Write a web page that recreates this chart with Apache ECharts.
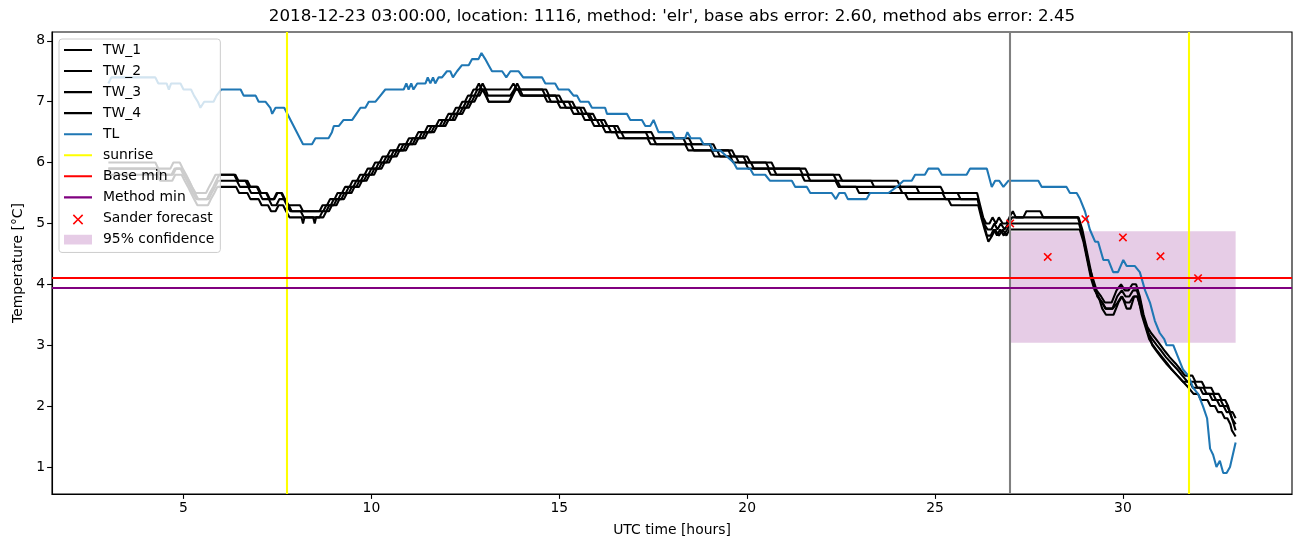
<!DOCTYPE html>
<html>
<head>
<meta charset="utf-8">
<script src="https://cdn.jsdelivr.net/npm/echarts@6/dist/echarts.min.js"></script>
<style>
  html, body { margin: 0; padding: 0; background: #fff; }
  #chart { width: 1302px; height: 547px; }
</style>
</head>
<body>
<div id="chart"></div>
<script>
// [hour, °C] vertices
const tw1 = [[3.0,6.0],[4.25,6.0],[4.33,5.9],[4.65,5.9],[4.73,6.0],[4.9,6.0],[4.98,5.9],[5.07,5.8],[5.15,5.7],[5.23,5.6],[5.32,5.5],[5.6,5.5],[5.68,5.6],[5.77,5.7],[5.85,5.8],[6.35,5.8],[6.43,5.7],[6.65,5.7],[6.73,5.6],[6.95,5.6],[7.03,5.5],[7.2,5.5],[7.28,5.4],[7.4,5.4],[7.48,5.5],[7.6,5.5],[7.68,5.4],[7.77,5.3],[8.1,5.3],[8.18,5.2],
  [8.62,5.2],[8.7,5.3],[8.82,5.3],[8.9,5.4],[9.02,5.4],[9.1,5.5],[9.22,5.5],[9.3,5.6],[9.42,5.6],[9.5,5.7],[9.62,5.7],[9.7,5.8],[9.82,5.8],[9.9,5.9],[10.02,5.9],[10.1,6.0],[10.22,6.0],[10.3,6.1],[10.42,6.1],[10.5,6.2],[10.67,6.2],[10.75,6.3],[10.92,6.3],[11.0,6.4],[11.17,6.4],[11.25,6.5],[11.42,6.5],[11.5,6.6],[11.72,6.6],[11.8,6.7],[11.97,6.7],[12.05,6.8],[12.17,6.8],[12.25,6.9],[12.34,6.9],[12.42,7.0],[12.49,7.0],[12.57,7.1],[12.64,7.1],[12.72,7.2],[12.78,7.2],[12.86,7.3],
  [12.94,7.2],[13.68,7.2],[13.78,7.3],[13.88,7.2],[14.55,7.2],
  [14.63,7.1],[14.9,7.1],[14.98,7.0],[15.25,7.0],[15.33,6.9],[15.55,6.9],[15.63,6.8],[15.8,6.8],[15.88,6.7],[16.1,6.7],[16.18,6.6],[16.45,6.6],[16.53,6.5],[17.3,6.5],[17.38,6.4],[18.3,6.4],[18.38,6.3],[19.0,6.3],[19.08,6.2],[19.5,6.2],[19.58,6.1],[19.9,6.1],[19.98,6.0],[20.5,6.0],[20.58,5.9],[21.4,5.9],[21.48,5.8],[22.3,5.8],[22.38,5.7],[24.0,5.7],[24.08,5.6],[25.15,5.6],[25.23,5.5],[26.12,5.5],
  [26.2,5.3],[26.28,5.1],[26.36,5.0],[26.45,5.0],[26.53,5.1],[26.62,5.0],[26.7,5.1],[26.8,5.0],[26.9,5.0],[26.98,5.1],[27.07,5.2],[27.15,5.1],[27.35,5.1],[27.43,5.2],[27.8,5.2],[27.88,5.1],[28.8,5.1],
  [28.9,4.9],[29.0,4.6],[29.1,4.3],[29.2,4.1],[29.3,3.9],[29.42,3.8],[29.52,3.7],[29.7,3.7],[29.83,3.9],[29.95,4.0],[30.05,3.9],[30.15,3.9],[30.25,4.0],[30.35,4.0],[30.45,3.8],[30.55,3.5],[30.65,3.3],[30.75,3.2],[30.88,3.1],[31.0,3.0],[31.12,2.9],[31.25,2.8],[31.4,2.7],[31.53,2.6],[31.65,2.5],[31.85,2.5],[31.93,2.4],[32.1,2.4],[32.18,2.3],[32.35,2.3],[32.43,2.2],[32.55,2.2],[32.63,2.1],[32.72,2.1],[32.8,2.0],[32.85,1.9],[32.92,1.9],[33.0,1.8]];

const tw2 = [[3.0,5.9],[4.28,5.9],[4.36,5.8],[4.68,5.8],[4.76,5.9],[4.92,5.9],[5.0,5.8],[5.09,5.7],[5.17,5.6],[5.25,5.5],[5.34,5.4],[5.62,5.4],[5.7,5.5],[5.79,5.6],[5.87,5.7],[5.95,5.8],[6.38,5.8],[6.46,5.7],[6.7,5.7],[6.78,5.6],[6.98,5.6],[7.06,5.5],[7.22,5.5],[7.3,5.4],[7.42,5.4],[7.5,5.5],[7.62,5.5],[7.7,5.4],[7.8,5.3],[7.88,5.2],[8.6,5.2],
  [8.72,5.2],[8.8,5.3],[8.92,5.3],[9.0,5.4],[9.12,5.4],[9.2,5.5],[9.32,5.5],[9.4,5.6],[9.52,5.6],[9.6,5.7],[9.72,5.7],[9.8,5.8],[9.92,5.8],[10.0,5.9],[10.12,5.9],[10.2,6.0],[10.32,6.0],[10.4,6.1],[10.52,6.1],[10.6,6.2],[10.77,6.2],[10.85,6.3],[11.02,6.3],[11.1,6.4],[11.27,6.4],[11.35,6.5],[11.52,6.5],[11.6,6.6],[11.82,6.6],[11.9,6.7],[12.07,6.7],[12.15,6.8],[12.27,6.8],[12.35,6.9],[12.44,6.9],[12.52,7.0],[12.59,7.0],[12.67,7.1],[12.74,7.1],[12.82,7.2],[12.88,7.2],[12.96,7.3],[13.04,7.2],[13.1,7.1],[13.7,7.1],[13.8,7.2],[13.88,7.3],[13.96,7.2],[14.65,7.2],
  [14.73,7.1],[15.0,7.1],[15.08,7.0],[15.35,7.0],[15.43,6.9],[15.65,6.9],[15.73,6.8],[15.9,6.8],[15.98,6.7],[16.2,6.7],[16.28,6.6],[16.55,6.6],[16.63,6.5],[17.45,6.5],[17.53,6.4],[18.45,6.4],[18.53,6.3],[19.1,6.3],[19.18,6.2],[19.6,6.2],[19.68,6.1],[20.0,6.1],[20.08,6.0],[20.65,6.0],[20.73,5.9],[21.55,5.9],[21.63,5.8],[22.45,5.8],[22.53,5.7],[23.3,5.7],[23.38,5.6],[24.5,5.6],[24.58,5.5],[25.6,5.5],[25.68,5.4],[26.14,5.4],
  [26.22,5.2],[26.3,5.0],[26.4,4.9],[26.5,4.9],[26.58,5.0],[26.66,4.9],[26.75,5.0],[26.85,4.9],[26.95,5.0],[27.05,5.1],[28.82,5.1],
  [28.92,4.9],[29.02,4.6],[29.12,4.3],[29.22,4.0],[29.32,3.8],[29.45,3.7],[29.55,3.6],[29.72,3.6],[29.85,3.8],[29.97,3.9],[30.07,3.8],[30.17,3.8],[30.27,3.9],[30.37,3.9],[30.47,3.7],[30.57,3.4],[30.67,3.2],[30.78,3.1],[30.9,3.0],[31.03,2.9],[31.15,2.8],[31.3,2.7],[31.45,2.6],[31.58,2.5],[31.72,2.4],[31.9,2.4],[31.98,2.3],[32.15,2.3],[32.23,2.2],[32.4,2.2],[32.48,2.1],[32.6,2.1],[32.68,2.0],[32.77,2.0],[32.85,1.9],[32.9,1.8],[32.95,1.8],[33.0,1.7]];

const tw3 = [[3.0,5.9],[4.32,5.9],[4.4,5.8],[4.72,5.8],[4.8,5.9],[4.97,5.9],[5.05,5.8],[5.14,5.7],[5.22,5.6],[5.3,5.5],[5.39,5.4],[5.67,5.4],[5.75,5.5],[5.84,5.6],[5.92,5.7],[6.42,5.7],[6.5,5.6],[6.72,5.6],[6.8,5.5],[7.02,5.5],[7.1,5.4],[7.27,5.4],[7.35,5.3],[7.47,5.3],[7.55,5.4],[7.67,5.4],[7.75,5.3],[7.84,5.2],[8.12,5.2],[8.2,5.1],[8.62,5.1],
  [8.7,5.2],[8.8,5.2],[8.88,5.3],[9.0,5.3],[9.08,5.4],[9.2,5.4],[9.28,5.5],[9.4,5.5],[9.48,5.6],[9.6,5.6],[9.68,5.7],[9.8,5.7],[9.88,5.8],[10.0,5.8],[10.08,5.9],[10.2,5.9],[10.28,6.0],[10.4,6.0],[10.48,6.1],[10.6,6.1],[10.68,6.2],[10.85,6.2],[10.93,6.3],[11.1,6.3],[11.18,6.4],[11.35,6.4],[11.43,6.5],[11.6,6.5],[11.68,6.6],[11.9,6.6],[11.98,6.7],[12.15,6.7],[12.23,6.8],[12.35,6.8],[12.43,6.9],[12.52,6.9],[12.6,7.0],[12.67,7.0],[12.75,7.1],[12.82,7.1],[12.9,7.2],[12.98,7.2],[13.06,7.1],[13.12,7.0],[13.68,7.0],[13.76,7.1],[13.84,7.2],[13.95,7.2],[14.03,7.1],[14.6,7.1],
  [14.68,7.0],[14.95,7.0],[15.03,6.9],[15.3,6.9],[15.38,6.8],[15.6,6.8],[15.68,6.7],[15.85,6.7],[15.93,6.6],[16.15,6.6],[16.23,6.5],[16.5,6.5],[16.58,6.4],[17.35,6.4],[17.43,6.3],[18.35,6.3],[18.43,6.2],[19.05,6.2],[19.13,6.1],[19.55,6.1],[19.63,6.0],[19.95,6.0],[20.03,5.9],[20.55,5.9],[20.63,5.8],[21.45,5.8],[21.53,5.7],[22.35,5.7],[22.43,5.6],[24.05,5.6],[24.13,5.5],[25.2,5.5],[25.28,5.4],[26.13,5.4],
  [26.21,5.2],[26.3,5.0],[26.38,4.8],[26.48,4.8],[26.56,4.9],[26.65,4.8],[26.73,4.9],[26.83,4.8],[26.92,4.9],[27.0,5.0],[28.83,5.0],
  [28.93,4.8],[29.03,4.5],[29.13,4.2],[29.23,4.0],[29.33,3.8],[29.45,3.7],[29.53,3.6],[29.73,3.6],[29.86,3.7],[29.96,3.8],[30.08,3.7],[30.18,3.7],[30.28,3.8],[30.38,3.8],[30.48,3.6],[30.58,3.4],[30.68,3.2],[30.78,3.0],[30.9,2.9],[31.02,2.8],[31.15,2.7],[31.3,2.6],[31.45,2.5],[31.6,2.4],[31.78,2.4],[31.86,2.3],[32.05,2.3],[32.13,2.2],[32.3,2.2],[32.38,2.1],[32.5,2.1],[32.58,2.0],[32.68,2.0],[32.76,1.9],[32.84,1.9],[32.9,1.8],[32.95,1.7],[33.0,1.6]];

const tw4 = [[3.0,5.8],[4.3,5.8],[4.38,5.7],[4.7,5.7],[4.78,5.8],[4.95,5.8],[5.03,5.7],[5.12,5.6],[5.2,5.5],[5.28,5.4],[5.37,5.3],[5.65,5.3],[5.73,5.4],[5.82,5.5],[5.9,5.6],[6.4,5.6],[6.48,5.5],[6.7,5.5],[6.78,5.4],[7.0,5.4],[7.08,5.3],[7.25,5.3],[7.33,5.2],[7.45,5.2],[7.53,5.3],[7.65,5.3],[7.73,5.2],[7.82,5.1],[8.14,5.1],[8.18,5.0],[8.22,5.1],[8.45,5.1],[8.49,5.0],[8.53,5.1],[8.72,5.1],[8.8,5.2],[8.87,5.2],[8.95,5.3],
  [9.07,5.3],[9.15,5.4],[9.27,5.4],[9.35,5.5],[9.47,5.5],[9.55,5.6],[9.67,5.6],[9.75,5.7],[9.87,5.7],[9.95,5.8],[10.07,5.8],[10.15,5.9],[10.27,5.9],[10.35,6.0],[10.47,6.0],[10.55,6.1],[10.67,6.1],[10.75,6.2],[10.92,6.2],[11.0,6.3],[11.17,6.3],[11.25,6.4],[11.42,6.4],[11.5,6.5],[11.67,6.5],[11.75,6.6],[11.97,6.6],[12.05,6.7],[12.22,6.7],[12.3,6.8],[12.42,6.8],[12.5,6.9],[12.59,6.9],[12.67,7.0],[12.74,7.0],[12.82,7.1],[12.88,7.1],[12.96,7.2],[13.04,7.1],[13.12,7.0],[13.66,7.0],[13.74,7.1],[13.82,7.2],[13.9,7.2],[13.98,7.1],[14.7,7.1],
  [14.78,7.0],[15.1,7.0],[15.18,6.9],[15.45,6.9],[15.53,6.8],[15.75,6.8],[15.83,6.7],[16.0,6.7],[16.08,6.6],[16.3,6.6],[16.38,6.5],[16.65,6.5],[16.73,6.4],[17.5,6.4],[17.58,6.3],[18.5,6.3],[18.58,6.2],[19.2,6.2],[19.28,6.1],[19.7,6.1],[19.78,6.0],[20.1,6.0],[20.18,5.9],[20.7,5.9],[20.78,5.8],[21.6,5.8],[21.68,5.7],[22.4,5.7],[22.48,5.6],[22.9,5.6],[22.98,5.5],[24.2,5.5],[24.28,5.4],[25.35,5.4],[25.43,5.3],[26.15,5.3],
  [26.23,5.1],[26.32,4.9],[26.42,4.7],[26.52,4.8],[26.6,4.9],[26.7,4.8],[26.8,4.9],[26.9,4.8],[26.98,4.9],[28.85,4.9],
  [28.95,4.7],[29.05,4.4],[29.15,4.1],[29.25,3.9],[29.35,3.8],[29.45,3.6],[29.55,3.5],[29.75,3.5],[29.88,3.7],[29.98,3.8],[30.1,3.6],[30.2,3.6],[30.3,3.8],[30.4,3.8],[30.5,3.5],[30.6,3.3],[30.7,3.1],[30.8,3.0],[30.92,2.9],[31.05,2.8],[31.18,2.7],[31.3,2.6],[31.45,2.5],[31.6,2.4],[31.75,2.3],[31.88,2.2],[32.0,2.2],[32.08,2.1],[32.25,2.1],[32.33,2.0],[32.45,2.0],[32.53,1.9],[32.63,1.9],[32.71,1.8],[32.78,1.8],[32.86,1.7],[32.9,1.6],[32.95,1.6],[33.0,1.5]];

const tl = [[3.0,7.3],[3.08,7.4],[4.25,7.4],[4.33,7.3],[4.55,7.3],[4.61,7.2],[4.67,7.3],[4.92,7.3],[5.0,7.2],[5.2,7.2],[5.28,7.1],[5.38,7.0],[5.45,6.9],[5.55,7.0],[5.8,7.0],[5.88,7.1],[6.0,7.2],[6.52,7.2],[6.6,7.1],[6.92,7.1],[7.0,7.0],[7.18,7.0],[7.31,6.9],[7.36,6.8],[7.45,6.9],[7.68,6.9],
  [8.18,6.3],[8.42,6.3],[8.51,6.4],[8.86,6.4],[8.95,6.5],[9.0,6.6],[9.13,6.6],[9.26,6.7],[9.49,6.7],[9.6,6.8],[9.71,6.9],[9.84,6.9],[9.93,7.0],[10.11,7.0],[10.24,7.1],[10.37,7.2],[10.86,7.2],[10.93,7.3],[10.99,7.2],[11.06,7.3],[11.12,7.2],[11.22,7.3],[11.44,7.3],[11.5,7.4],[11.57,7.3],[11.64,7.4],[11.7,7.3],[11.79,7.4],[11.88,7.4],[12.01,7.5],[12.1,7.5],[12.17,7.4],[12.28,7.5],[12.41,7.6],[12.59,7.6],[12.68,7.7],[12.85,7.7],[12.93,7.8],[13.03,7.7],[13.12,7.6],[13.21,7.5],[13.48,7.5],[13.59,7.4],[13.7,7.5],[13.92,7.5],[14.04,7.4],[14.54,7.4],
  [14.63,7.3],[14.89,7.3],[14.98,7.2],[15.25,7.2],[15.38,7.1],[15.47,7.1],[15.56,7.0],[15.78,7.0],[15.87,6.9],[16.22,6.9],[16.27,6.8],[16.8,6.8],[16.89,6.7],[17.2,6.7],[17.29,6.6],[17.42,6.6],[17.51,6.7],[17.64,6.5],[18.0,6.5],[18.08,6.4],[18.35,6.4],[18.41,6.5],[18.5,6.4],[18.75,6.4],[18.84,6.3],[19.02,6.3],[19.09,6.2],[19.28,6.2],[19.46,6.1],[19.64,6.0],[19.73,5.9],[20.08,5.9],[20.17,5.8],[20.48,5.8],[20.61,5.7],[21.19,5.7],[21.28,5.6],[21.59,5.6],[21.68,5.5],
  [22.25,5.5],[22.36,5.4],[22.45,5.5],[22.6,5.5],[22.68,5.4],[23.18,5.4],[23.27,5.5],[23.76,5.5],[23.98,5.6],[24.16,5.7],[24.38,5.7],[24.47,5.8],[24.73,5.8],[24.82,5.9],[25.09,5.9],[25.18,5.8],[25.84,5.8],[25.93,5.9],[26.38,5.9],[26.51,5.6],[26.6,5.7],[26.71,5.7],[26.82,5.6],[26.95,5.7],[27.75,5.7],[27.84,5.6],[28.5,5.6],[28.59,5.5],[28.77,5.5],[28.86,5.4],[28.99,5.2],[29.12,4.9],[29.26,4.7],[29.34,4.7],[29.48,4.4],[29.61,4.4],[29.74,4.2],[29.87,4.2],[30.01,4.4],[30.1,4.3],[30.32,4.3],[30.45,4.2],[30.59,3.9],[30.72,3.7],[30.85,3.4],[30.98,3.2],[31.1,3.1],[31.16,3.0],[31.34,3.0],[31.47,2.8],[31.6,2.6],[31.74,2.5],[31.87,2.3],[32.0,2.2],[32.13,2.0],[32.24,1.8],[32.32,1.3],[32.4,1.2],[32.49,1.0],[32.58,1.1],[32.67,0.9],[32.76,0.9],[32.85,1.0],[33.0,1.4]];

const sunriseHours = [7.74, 31.74];
const forecastHour = 27;
const baseMin = 4.1;
const methodMin = 3.95;
const sanderHours = [27, 28, 29, 30, 31, 32];
const sanderValues = [5.0, 4.45, 5.07, 4.77, 4.46, 4.1];
const confidenceHours = [27, 33];
const confidenceRange = [3.04, 4.87];
const xTicks = [5, 10, 15, 20, 25, 30];
const yTicks = [1, 2, 3, 4, 5, 6, 7, 8];

const FONT = 'DejaVu Sans';
const LW = 2.08; // 1.5pt at 100 dpi
const crossPath = 'path://M0.13,0L0.5,0.37L0.87,0L1,0.13L0.63,0.5L1,0.87L0.87,1L0.5,0.63L0.13,1L0,0.87L0.37,0.5L0,0.13Z';
// legend icons: degenerate corner points pin the 28x14 box so the shape keeps its size
const crossLegend = 'path://M0,0L0,0ZM28,14L28,14ZM9.9,2.9L14,7L18.1,2.9L19.2,4L15.1,8.1L19.2,12.2L18.1,13.3L14,9.2L9.9,13.3L8.8,12.2L12.9,8.1L8.8,4Z';
const rectLegend = 'path://M0,0L0,0ZM28,14L28,14ZM0,2.2L28,2.2L28,12L0,12Z';
const lineLegend = 'path://M0,0L0,0ZM28,14L28,14ZM0,5.96L28,5.96L28,8.04L0,8.04Z';

const chart = echarts.init(document.getElementById('chart'), null, { renderer: 'canvas' });

const twLine = (name, data) => ({
  name, type: 'line', data, symbol: 'none', z: 3,
  lineStyle: { color: '#000', width: LW }, itemStyle: { color: '#000' }
});

const refLine = (name, color, lineData, z) => ({
  name, type: 'line', data: [], symbol: 'none', z,
  lineStyle: { color, width: LW }, itemStyle: { color },
  markLine: {
    silent: true, symbol: ['none', 'none'], label: { show: false },
    lineStyle: { color, width: LW, type: 'solid' },
    data: lineData
  }
});

const option = {
  animation: false,
  title: {
    text: "2018-12-23 03:00:00, location: 1116, method: 'elr', base abs error: 2.60, method abs error: 2.45",
    left: 672, top: 8, padding: 0, textAlign: 'center',
    textStyle: { fontFamily: FONT, fontSize: 16.7, fontWeight: 'normal', color: '#000' }
  },
  legend: {
    orient: 'vertical', left: 59, top: 39,
    padding: [4, 6, 6, 5],
    itemWidth: 28, itemHeight: 14, itemGap: 7.05,
    backgroundColor: 'rgba(255,255,255,0.8)', borderColor: '#cccccc', borderWidth: 1, borderRadius: 3,
    textStyle: { fontFamily: FONT, fontSize: 13.9, color: '#000', padding: [0, 0, 0, 6] },
    data: ['TW_1', 'TW_2', 'TW_3', 'TW_4', 'TL', 'sunrise', 'Base min', 'Method min']
      .map(name => ({ name, icon: lineLegend }))
      .concat([
        { name: 'Sander forecast', icon: crossLegend },
        { name: '95% confidence', icon: rectLegend }
      ])
  },
  grid: {
    left: 52, right: 10, top: 32, bottom: 53, outerBoundsMode: 'none',
    show: true, borderColor: '#000', borderWidth: 1.1, backgroundColor: 'transparent'
  },
  xAxis: {
    type: 'value', min: 1.5, max: 34.5,
    name: 'UTC time [hours]', nameLocation: 'middle', nameGap: 29,
    nameTextStyle: { fontFamily: FONT, fontSize: 13.9, color: '#000' },
    axisLine: { show: true, lineStyle: { color: '#000', width: 1.1 } },
    axisTick: { show: true, customValues: xTicks, length: 4.9, lineStyle: { color: '#000', width: 1.1 } },
    axisLabel: { customValues: xTicks, margin: 7, fontFamily: FONT, fontSize: 13.9, color: '#000' },
    splitLine: { show: false }
  },
  yAxis: {
    type: 'value', min: 0.555, max: 8.145,
    name: 'Temperature [°C]', nameLocation: 'middle', nameGap: 27,
    nameTextStyle: { fontFamily: FONT, fontSize: 13.9, color: '#000' },
    axisLine: { show: true, lineStyle: { color: '#000', width: 1.1 } },
    axisTick: { show: true, customValues: yTicks, length: 4.9, lineStyle: { color: '#000', width: 1.1 } },
    axisLabel: { customValues: yTicks, margin: 7, fontFamily: FONT, fontSize: 13.9, color: '#000' },
    splitLine: { show: false }
  },
  series: [
    twLine('TW_1', tw1),
    twLine('TW_2', tw2),
    twLine('TW_3', tw3),
    twLine('TW_4', tw4),
    {
      name: 'TL', type: 'line', data: tl, symbol: 'none', z: 3,
      lineStyle: { color: '#1f77b4', width: LW }, itemStyle: { color: '#1f77b4' }
    },
    refLine('sunrise', '#ffff00', sunriseHours.map(h => ({ xAxis: h })), 3),
    refLine('forecast time', '#808080', [{ xAxis: forecastHour }], 3),
    refLine('Base min', '#ff0000', [{ yAxis: baseMin }], 3),
    refLine('Method min', '#800080', [{ yAxis: methodMin }], 3),
    {
      name: 'Sander forecast', type: 'scatter', z: 4,
      data: sanderHours.map((h, i) => [h, sanderValues[i]]),
      symbol: crossPath, symbolSize: 8.5,
      itemStyle: { color: '#ff0000', opacity: 1 }
    },
    {
      name: '95% confidence', type: 'line', data: [], symbol: 'none', z: 1,
      color: 'rgba(128,0,128,0.2)',
      lineStyle: { color: 'rgba(128,0,128,0.2)' }, itemStyle: { color: 'rgba(128,0,128,0.2)' },
      markArea: {
        silent: true,
        itemStyle: { color: 'rgba(128,0,128,0.2)', borderWidth: 0 },
        data: [[
          { xAxis: confidenceHours[0], yAxis: confidenceRange[0] },
          { xAxis: confidenceHours[1], yAxis: confidenceRange[1] }
        ]]
      }
    }
  ]
};

chart.setOption(option);
window.addEventListener('resize', () => chart.resize());
</script>
</body>
</html>
